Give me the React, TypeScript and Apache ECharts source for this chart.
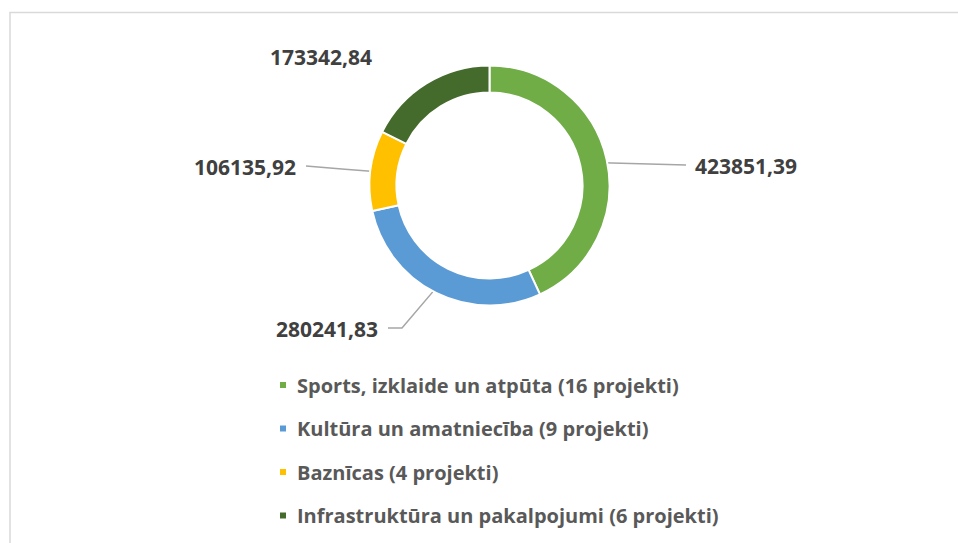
import React, { useEffect, useRef } from "react";
import * as echarts from "echarts";

const categories = [
  "Sports, izklaide un atpūta (16 projekti)",
  "Kultūra un amatniecība (9 projekti)",
  "Baznīcas (4 projekti)",
  "Infrastruktūra un pakalpojumi (6 projekti)",
];
const values = [423851.39, 280241.83, 106135.92, 173342.84];
const colors = ["#70AD47", "#5B9BD5", "#FFC000", "#446A2C"];

const CX = 489.5;
const CY = 185.5;
const R_IN = 93;
const R_OUT = 120;

// label anchor spots (layout, not data)
const labelSpots: any[] = [
  { x: 695, y: 166, align: "left" },
  { x: 378, y: 329, align: "right", elbow: 14 },
  { x: 296, y: 167, align: "right" },
  { x: 372, y: 57, align: "right", noLine: true },
];

const fmt = (v: number) => v.toFixed(2).replace(".", ",");

export default function App() {
  const ref = useRef<HTMLDivElement>(null);
  useEffect(() => {
    if (!ref.current) return;
    const chart = echarts.init(ref.current, null, { renderer: "svg" });
    chart.setOption({
      animation: false,
      backgroundColor: "#ffffff",
      graphic: [
        {
          type: "rect",
          shape: { x: 10, y: 12.5, width: 980, height: 560 },
          style: { fill: "none", stroke: "#d9d9d9", lineWidth: 1.5 },
          silent: true,
        },
      ],
      legend: {
        orient: "vertical",
        left: 278,
        top: 374,
        padding: 0,
        itemWidth: 8,
        itemHeight: 8,
        itemGap: 21.5,
        icon: "rect",
        data: categories,
        textStyle: {
          fontFamily: "Open Sans",
          fontWeight: "bold",
          fontSize: 20,
          lineHeight: 22,
          color: "#595959",
          padding: [0, 0, 0, 5],
        },
      },
      series: [
        {
          type: "pie",
          center: [CX, CY],
          radius: [R_IN, R_OUT],
          startAngle: 90,
          clockwise: true,
          avoidLabelOverlap: false,
          itemStyle: { borderColor: "#ffffff", borderWidth: 2 },
          label: {
            show: true,
            position: "outside",
            formatter: (p: any) => fmt(p.value),
            fontFamily: "Open Sans",
            fontWeight: "bold",
            fontSize: 21,
            color: "#404040",
          },
          labelLine: {
            show: true,
            lineStyle: { color: "#a6a6a6", width: 1.5 },
          },
          labelLayout: (p: any) => {
            const s = labelSpots[p.dataIndex];
            const out: any = {
              x: s.x,
              y: s.y,
              align: s.align,
              verticalAlign: "middle",
            };
            const pts = p.labelLinePoints;
            if (pts && !s.noLine) {
              const dx = pts[0][0] - CX;
              const dy = pts[0][1] - CY;
              const len = Math.hypot(dx, dy) || 1;
              const rm = (R_IN + R_OUT) / 2;
              const start = [CX + (dx / len) * rm, CY + (dy / len) * rm];
              const endX = s.align === "left" ? s.x - 9 : s.x + 10;
              const end = [endX, s.y - 1];
              const mid = s.elbow
                ? [endX + s.elbow, s.y - 1]
                : [(start[0] + end[0]) / 2, (start[1] + end[1]) / 2];
              out.labelLinePoints = [start, mid, end];
            }
            return out;
          },
          data: categories.map((name, i) => ({
            name,
            value: values[i],
            itemStyle: { color: colors[i] },
            labelLine: { show: !labelSpots[i].noLine },
          })),
        },
      ],
    });
    return () => chart.dispose();
  }, []);
  return (
    <div
      ref={ref}
      style={{ position: "absolute", left: 0, top: 0, width: 958, height: 543 }}
    />
  );
}
